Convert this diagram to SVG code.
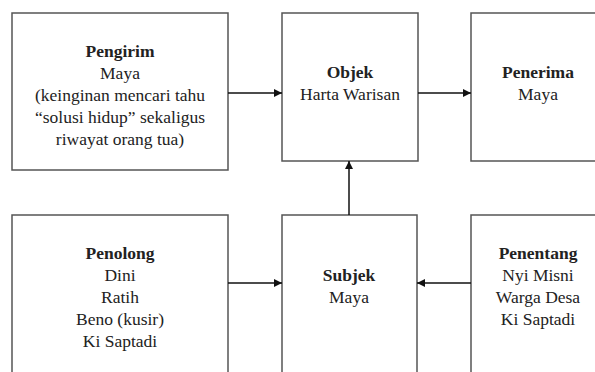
<svg xmlns="http://www.w3.org/2000/svg" width="595" height="372" viewBox="0 0 595 372">
<style>
.box{fill:#fff;stroke:#555;stroke-width:1.5}
text{font-family:"Liberation Serif","DejaVu Serif",serif;font-size:17.5px;fill:#222;text-anchor:middle}
.b{font-weight:bold}
.c{stroke:#111;stroke-width:1.5;fill:none}
</style>
<defs>
<marker id="ah" viewBox="0 0 10 10" refX="10" refY="5" markerWidth="8" markerHeight="8" markerUnits="userSpaceOnUse" orient="auto">
<path d="M0,0 L10,5 L0,10 z" fill="#111"/>
</marker>
</defs>
<rect width="595" height="372" fill="#fff"/>
<g id="pengirim">
<rect class="box" x="12" y="13" width="216" height="157"/>
<text x="120" y="57" class="b">Pengirim</text>
<text x="120" y="79">Maya</text>
<text x="120" y="101">(keinginan mencari tahu</text>
<text x="120" y="123">“solusi hidup” sekaligus</text>
<text x="120" y="145">riwayat orang tua)</text>
</g>
<g id="objek">
<rect class="box" x="282" y="13" width="136" height="148"/>
<text x="350" y="78" class="b">Objek</text>
<text x="350" y="100">Harta Warisan</text>
</g>
<g id="penerima">
<rect class="box" x="471" y="13" width="140" height="148"/>
<text x="538" y="78" class="b">Penerima</text>
<text x="538" y="100">Maya</text>
</g>
<g id="penolong">
<rect class="box" x="12" y="215" width="216" height="170"/>
<text x="120" y="259" class="b">Penolong</text>
<text x="120" y="281">Dini</text>
<text x="120" y="303">Ratih</text>
<text x="120" y="325">Beno (kusir)</text>
<text x="120" y="347">Ki Saptadi</text>
</g>
<g id="subjek">
<rect class="box" x="282" y="215" width="135" height="170"/>
<text x="349" y="281" class="b">Subjek</text>
<text x="349" y="303">Maya</text>
</g>
<g id="penentang">
<rect class="box" x="471" y="215" width="140" height="170"/>
<text x="538" y="259" class="b">Penentang</text>
<text x="538" y="281">Nyi Misni</text>
<text x="538" y="303">Warga Desa</text>
<text x="538" y="325">Ki Saptadi</text>
</g>
<g id="connectors">
<line class="c" x1="228" y1="93" x2="282" y2="93" marker-end="url(#ah)"/>
<line class="c" x1="418" y1="93" x2="471" y2="93" marker-end="url(#ah)"/>
<line class="c" x1="349" y1="215" x2="349" y2="161" marker-end="url(#ah)"/>
<line class="c" x1="228" y1="283" x2="282" y2="283" marker-end="url(#ah)"/>
<line class="c" x1="471" y1="283" x2="417" y2="283" marker-end="url(#ah)"/>
</g>
</svg>
